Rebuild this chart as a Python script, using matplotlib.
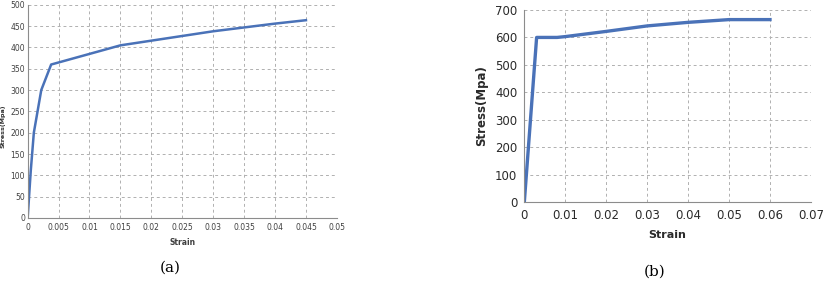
import matplotlib
matplotlib.use("Agg")
import matplotlib.pyplot as plt

# (a) stress-strain
strain_a = [0, 0.0005, 0.001, 0.0022, 0.0038, 0.015, 0.02, 0.025, 0.03, 0.035, 0.04, 0.045]
stress_a = [0, 110, 200, 300, 360, 405, 416, 427, 438, 447, 456, 464]
xticks_a = [0, 0.005, 0.01, 0.015, 0.02, 0.025, 0.03, 0.035, 0.04, 0.045, 0.05]
xlabels_a = ["0", "0.005", "0.01", "0.015", "0.02", "0.025", "0.03", "0.035", "0.04", "0.045", "0.05"]
yticks_a = [0, 50, 100, 150, 200, 250, 300, 350, 400, 450, 500]

# (b) stress-strain
strain_b = [0, 0.003, 0.008, 0.01, 0.02, 0.03, 0.04, 0.05, 0.06]
stress_b = [0, 600, 600, 603, 622, 642, 655, 665, 665]
xticks_b = [0, 0.01, 0.02, 0.03, 0.04, 0.05, 0.06, 0.07]
xlabels_b = ["0", "0.01", "0.02", "0.03", "0.04", "0.05", "0.06", "0.07"]
yticks_b = [0, 100, 200, 300, 400, 500, 600, 700]

line_col = "#4a72b8"
grid_col = "#b0b0b0"

fig = plt.figure(figsize=(8.38, 2.86), dpi=100)

def style_axes(ax):
    ax.grid(True, linestyle=(0, (3, 3)), color=grid_col, linewidth=0.7)
    for s in ["top", "right"]:
        ax.spines[s].set_visible(False)
    for s in ["left", "bottom"]:
        ax.spines[s].set_color("#8c8c8c")
        ax.spines[s].set_linewidth(0.8)
    ax.tick_params(length=3, width=0.6, color="#8c8c8c")

# panel a
ax1 = fig.add_axes([0.033, 0.238, 0.369, 0.745])
ax1.plot(strain_a, stress_a, color=line_col, lw=1.8)
ax1.set_xlim(0, 0.05)
ax1.set_ylim(0, 500)
ax1.set_xticks(xticks_a)
ax1.set_xticklabels(xlabels_a)
ax1.set_yticks(yticks_a)
style_axes(ax1)
ax1.tick_params(labelsize=5.5, labelcolor="#404040", length=0)
ax1.tick_params(axis="x", pad=4)
ax1.tick_params(axis="y", pad=2)
ax1.set_xlabel("Strain", fontsize=5.5, fontweight="bold", color="#404040", labelpad=4)
fig.text(0.0035, 0.56, "Stress(Mpa)", rotation=90, fontsize=4.6, fontweight="bold",
         ha="center", va="center", color="#303030")

# panel b
ax2 = fig.add_axes([0.6257, 0.294, 0.342, 0.671])
ax2.plot(strain_b, stress_b, color=line_col, lw=2.4)
ax2.set_xlim(0, 0.07)
ax2.set_ylim(0, 700)
ax2.set_xticks(xticks_b)
ax2.set_xticklabels(xlabels_b)
ax2.set_yticks(yticks_b)
style_axes(ax2)
ax2.tick_params(labelsize=8.5, labelcolor="#2a2a2a", length=0, pad=5)
ax2.set_xlabel("Strain", fontsize=8, fontweight="bold", color="#2a2a2a", labelpad=6)
ax2.set_ylabel("Stress(Mpa)", fontsize=8.5, fontweight="bold", color="#2a2a2a", labelpad=5)

fig.text(170 / 838, 1 - 268 / 286, "(a)", fontsize=11, family="DejaVu Serif",
         ha="center", va="center")
fig.text(655 / 838, 1 - 272 / 286, "(b)", fontsize=11, family="DejaVu Serif",
         ha="center", va="center")

fig.savefig("out.png", dpi=100)
